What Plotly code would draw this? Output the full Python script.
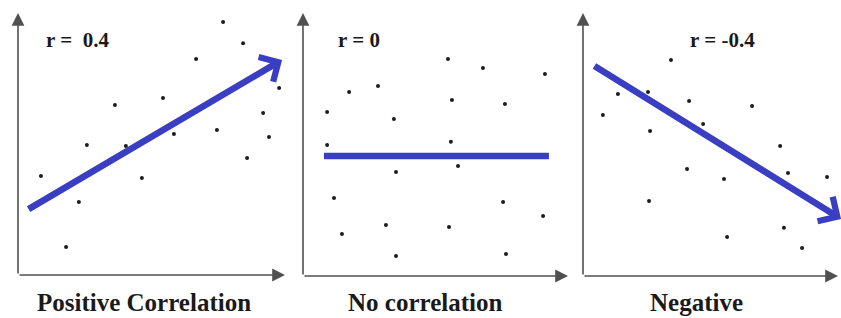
import plotly.graph_objects as go

# ---------------- data (unit coordinates, 0..10 on each axis) ----------------
pos_x = [7.68, 8.43, 6.67, 9.78, 5.43, 3.63, 9.18, 7.45, 5.84, 9.40, 2.58, 4.04, 8.58, 0.86, 4.64, 2.28, 1.80]
pos_y = [9.66, 8.85, 8.24, 7.14, 6.76, 6.49, 6.18, 5.53, 5.38, 5.27, 4.96, 4.92, 4.47, 3.78, 3.70, 2.79, 1.07]
pos_trend_x = [0.34, 9.89]
pos_trend_y = [2.48, 8.21]

none_x = [5.47, 6.79, 9.13, 1.74, 2.83, 0.91, 5.62, 7.62, 3.43, 0.91, 5.58, 5.85, 3.51, 1.17, 7.55, 9.06, 3.13, 1.47, 5.51, 3.51, 7.66]
none_y = [8.25, 7.91, 7.68, 7.00, 7.22, 6.24, 6.69, 6.54, 5.97, 4.98, 5.10, 4.18, 3.95, 2.97, 2.81, 2.28, 1.94, 1.60, 1.86, 0.76, 0.84]
none_trend_x = [0.79, 9.28]
none_trend_y = [4.56, 4.56]

neg_x = [3.45, 1.37, 2.55, 4.16, 6.63, 0.78, 4.71, 2.63, 7.73, 4.08, 8.04, 9.57, 5.53, 2.59, 7.88, 5.65, 8.59]
neg_y = [8.21, 6.92, 7.00, 6.65, 6.46, 6.12, 5.78, 5.51, 4.94, 4.07, 3.92, 3.76, 3.69, 2.85, 1.83, 1.48, 1.06]
neg_trend_x = [0.39, 10.12]
neg_trend_y = [8.02, 2.17]

r_labels = ["r =  0.4", "r = 0", "r = -0.4"]
titles = ["Positive Correlation", "No correlation", "Negative"]

# ---------------- layout geometry (pixels) ----------------
W, H = 841, 318
BLUE = "#3a3ec2"
AXIS = "#505050"
panels = [
    dict(x0=18, xend=285, y0=275, ytop=13, a=0, b=290, lab_x=77, title_x=144),
    dict(x0=303, xend=568, y0=276, ytop=13, a=290, b=575, lab_x=359, title_x=425),
    dict(x0=583, xend=838, y0=276, ytop=13, a=575, b=841, lab_x=722, title_x=696),
]
series = [
    (pos_x, pos_y, pos_trend_x, pos_trend_y, True),
    (none_x, none_y, none_trend_x, none_trend_y, False),
    (neg_x, neg_y, neg_trend_x, neg_trend_y, True),
]
DOM_TOP, DOM_BOT = 0, 290

fig = go.Figure()
annotations = []
for i, (p, s) in enumerate(zip(panels, series)):
    k = "" if i == 0 else str(i + 1)
    xa, ya = "xaxis" + k, "yaxis" + k
    xr, yr = "x" + k, "y" + k
    ppx = (p["xend"] - p["x0"]) / 10.0
    ppy = (p["y0"] - p["ytop"]) / 10.0
    fig.update_layout(**{
        xa: dict(domain=[p["a"] / W, p["b"] / W],
                 range=[(p["a"] - p["x0"]) / ppx, (p["b"] - p["x0"]) / ppx],
                 visible=False, fixedrange=True),
        ya: dict(domain=[1 - DOM_BOT / H, 1 - DOM_TOP / H],
                 range=[(p["y0"] - DOM_BOT) / ppy, (p["y0"] - DOM_TOP) / ppy],
                 visible=False, fixedrange=True),
    })
    px, py, tx, ty, arrow = s
    fig.add_trace(go.Scatter(x=px, y=py, mode="markers", xaxis=xr, yaxis=yr,
                             marker=dict(size=4, color="#1c1c1c"),
                             cliponaxis=False, showlegend=False, hoverinfo="skip"))
    if arrow:
        annotations.append(dict(x=tx[1], y=ty[1], ax=tx[0], ay=ty[0],
                                xref=xr, yref=yr, axref=xr, ayref=yr,
                                text="", showarrow=True, arrowhead=4,
                                arrowsize=0.85, arrowwidth=6.5, arrowcolor=BLUE,
                                standoff=0))
    else:
        fig.add_trace(go.Scatter(x=tx, y=ty, mode="lines", xaxis=xr, yaxis=yr,
                                 line=dict(color=BLUE, width=6.5),
                                 showlegend=False, hoverinfo="skip"))
    for (ex, ey) in [(0, 10), (10, 0)]:
        annotations.append(dict(x=ex, y=ey, ax=0, ay=0,
                                xref=xr, yref=yr, axref=xr, ayref=yr,
                                text="", showarrow=True, arrowhead=2,
                                arrowsize=1.6, arrowwidth=1.6, arrowcolor=AXIS,
                                standoff=0))
    annotations.append(dict(x=p["lab_x"] / W, y=1 - 40 / H, xref="paper", yref="paper",
                            text="<b>" + r_labels[i] + "</b>", showarrow=False,
                            font=dict(family="Liberation Serif", size=21, color="#1a1a1a"),
                            xanchor="center", yanchor="middle"))
    annotations.append(dict(x=p["title_x"] / W, y=1 - 302 / H, xref="paper", yref="paper",
                            text="<b>" + titles[i] + "</b>", showarrow=False,
                            font=dict(family="Liberation Serif", size=25, color="#1a1a1a"),
                            xanchor="center", yanchor="middle"))

fig.update_layout(width=W, height=H, margin=dict(l=0, r=0, t=0, b=0),
                  paper_bgcolor="white", plot_bgcolor="white",
                  annotations=annotations, showlegend=False)
fig.write_html("out.html", config={"displayModeBar": False, "staticPlot": True},
               post_script="document.body.style.margin='0px';document.body.style.overflow='hidden';")
